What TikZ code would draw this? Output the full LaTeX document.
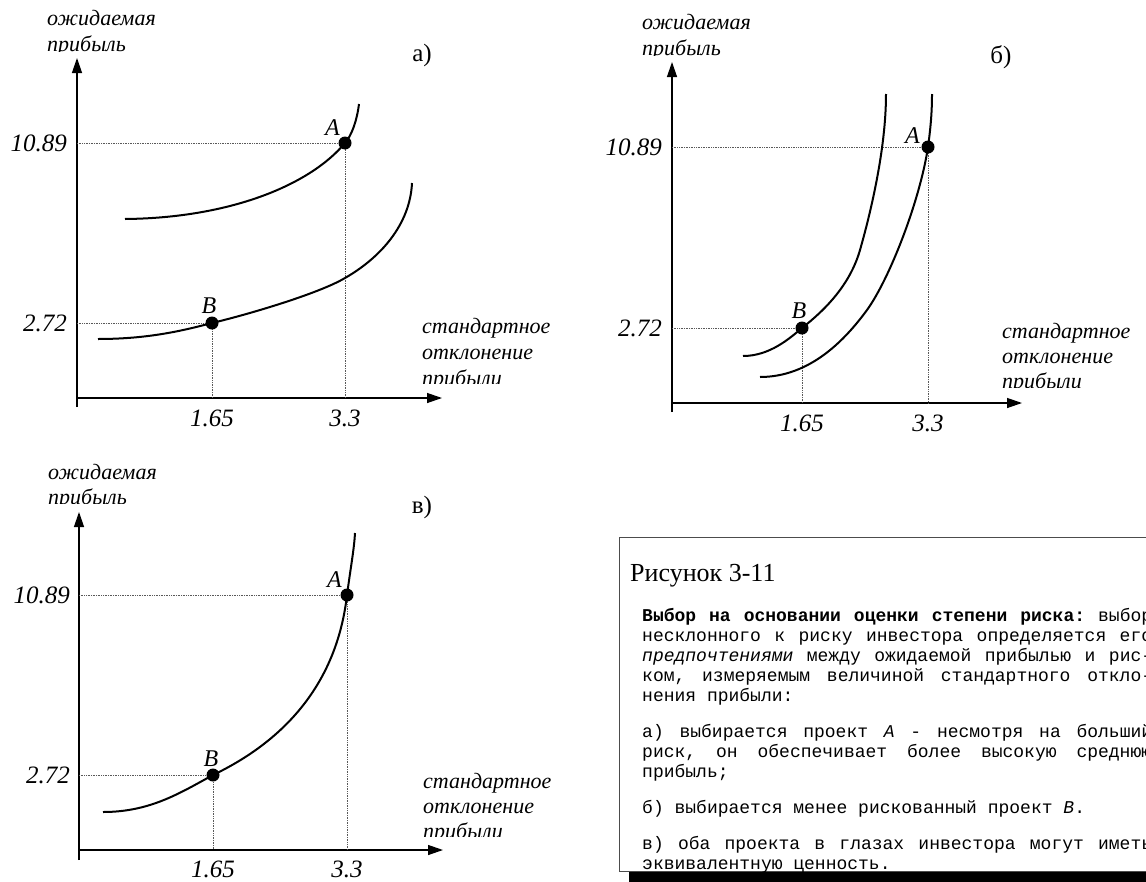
\documentclass[tikz,border=0pt]{standalone}
\usepackage{fontspec}
\setmainfont{Liberation Serif}
\newfontfamily\bodymono{Liberation Mono}
\usetikzlibrary{arrows.meta,positioning}

\begin{document}
\begin{tikzpicture}[x=1pt, y=-1pt,
    axis/.style={line width=1.3pt, -{Triangle[length=15pt,width=10pt]}},
    curve/.style={line width=2pt},
    guide/.style={densely dotted, line width=0.7pt, draw=black!65},
    dot/.style={circle, fill=black, inner sep=0pt, minimum size=13pt},
    axlab/.style={anchor=base west, inner sep=0pt, font=\fontsize{22}{25}\selectfont\itshape},
    ticklab/.style={inner sep=0pt, font=\fontsize{25}{29}\selectfont\itshape},
    ptlab/.style={inner sep=0pt, font=\fontsize{24}{28}\selectfont\itshape},
    panlab/.style={inner sep=0pt, font=\fontsize{25}{29}\selectfont}
  ]
  \useasboundingbox (0,0) rectangle (1146,881);

  % panel a)
  \coordinate (aO) at (77,398);
  \coordinate (aA) at (345,143);
  \coordinate (aB) at (212,323);
  \draw[axis] (77,407) -- (77,58);
  \draw[axis] (aO) -- (442,398);
  \draw[guide] (aO |- aA) -- (aA) -- (aA |- aO);
  \draw[guide] (aO |- aB) -- (aB) -- (aB |- aO);
  \draw[curve] (125,219) .. controls (230,218) and (310,185) .. (aA)
    .. controls (352,135) and (357,120) .. (359,104);
  \draw[curve] (98,339) .. controls (150,339) and (185,330) .. (aB)
    .. controls (250,314) and (320,293) .. (345,278)
    .. controls (380,258) and (410,225) .. (412,183);
  \node[dot] (aAd) at (aA) {};
  \node[dot] (aBd) at (aB) {};
  \node[ptlab, anchor=south east] (aAl) at ([xshift=-5pt, yshift=7pt]aA) {A};
  \node[ptlab, anchor=south] (aBl) at ([xshift=-3pt, yshift=9pt]aB) {B};
  \node[ticklab, anchor=east] (aT1) at ([xshift=-10pt]aO |- aA) {10.89};
  \node[ticklab, anchor=east] (aT2) at ([xshift=-10pt]aO |- aB) {2.72};
  \node[ticklab] (aT3) at ([yshift=-20pt]aB |- aO) {1.65};
  \node[ticklab] (aT4) at ([yshift=-20pt]aA |- aO) {3.3};
  \node[panlab] (aP) at (422,55) {а)};
  \begin{scope}
    \clip (0,0) rectangle (600,51);
    \node[axlab] (aY1) at (47,25) {ожидаемая};
    \node[axlab] (aY2) at (47,51) {прибыль};
  \end{scope}
  \begin{scope}
    \clip (400,300) rectangle (600,383);
    \node[axlab] (aX1) at (422,333) {стандартное};
    \node[axlab] (aX2) at (422,359) {отклонение};
    \node[axlab] (aX3) at (422,385) {прибыли};
  \end{scope}

  % panel b)
  \coordinate (bO) at (672,403);
  \coordinate (bA) at (928,147);
  \coordinate (bB) at (802,328);
  \draw[axis] (672,412) -- (672,62);
  \draw[axis] (bO) -- (1022,403);
  \draw[guide] (bO |- bA) -- (bA) -- (bA |- bO);
  \draw[guide] (bO |- bB) -- (bB) -- (bB |- bO);
  \draw[curve] (743,356) .. controls (770,356) and (790,338) .. (bB)
    .. controls (825,310) and (850,285) .. (860,250)
    .. controls (870,215) and (886,150) .. (886,94);
  \draw[curve] (760,377) .. controls (810,377) and (845,340) .. (867,310)
    .. controls (890,278) and (920,200) .. (bA)
    .. controls (931,125) and (932,110) .. (932,94);
  \node[dot] (bAd) at (bA) {};
  \node[dot] (bBd) at (bB) {};
  \node[ptlab, anchor=south east] (bAl) at ([xshift=-8pt, yshift=3pt]bA) {A};
  \node[ptlab, anchor=south] (bBl) at ([xshift=-3pt, yshift=9pt]bB) {B};
  \node[ticklab, anchor=east] (bT1) at ([xshift=-10pt]bO |- bA) {10.89};
  \node[ticklab, anchor=east] (bT2) at ([xshift=-10pt]bO |- bB) {2.72};
  \node[ticklab] (bT3) at ([yshift=-20pt]bB |- bO) {1.65};
  \node[ticklab] (bT4) at ([yshift=-20pt]bA |- bO) {3.3};
  \node[panlab] (bP) at (1001,57) {б)};
  \begin{scope}
    \clip (600,0) rectangle (1146,55);
    \node[axlab] (bY1) at (642,29) {ожидаемая};
    \node[axlab] (bY2) at (642,55) {прибыль};
  \end{scope}
  \begin{scope}
    \clip (980,300) rectangle (1146,387);
    \node[axlab] (bX1) at (1002,338) {стандартное};
    \node[axlab] (bX2) at (1002,363) {отклонение};
    \node[axlab] (bX3) at (1002,388) {прибыли};
  \end{scope}

  % panel v)
  \coordinate (vO) at (79,850);
  \coordinate (vA) at (347,595);
  \coordinate (vB) at (213,775);
  \draw[axis] (79,860) -- (79,512);
  \draw[axis] (vO) -- (443,850);
  \draw[guide] (vO |- vA) -- (vA) -- (vA |- vO);
  \draw[guide] (vO |- vB) -- (vB) -- (vB |- vO);
  \draw[curve] (103,812) .. controls (150,812) and (180,793) .. (vB)
    .. controls (265,750) and (335,700) .. (vA)
    .. controls (351,565) and (354,550) .. (355,533);
  \node[dot] (vAd) at (vA) {};
  \node[dot] (vBd) at (vB) {};
  \node[ptlab, anchor=south east] (vAl) at ([xshift=-5pt, yshift=7pt]vA) {A};
  \node[ptlab, anchor=south] (vBl) at ([xshift=-2pt, yshift=8pt]vB) {B};
  \node[ticklab, anchor=east] (vT1) at ([xshift=-9pt]vO |- vA) {10.89};
  \node[ticklab, anchor=east] (vT2) at ([xshift=-9pt]vO |- vB) {2.72};
  \node[ticklab] (vT3) at ([yshift=-19pt]vB |- vO) {1.65};
  \node[ticklab] (vT4) at ([yshift=-19pt]vA |- vO) {3.3};
  \node[panlab] (vP) at (422,507) {в)};
  \begin{scope}
    \clip (0,450) rectangle (600,503);
    \node[axlab] (vY1) at (48,479) {ожидаемая};
    \node[axlab] (vY2) at (48,504) {прибыль};
  \end{scope}
  \begin{scope}
    \clip (400,750) rectangle (600,836);
    \node[axlab] (vX1) at (423,788) {стандартное};
    \node[axlab] (vX2) at (423,813) {отклонение};
    \node[axlab] (vX3) at (423,838) {прибыли};
  \end{scope}

  % caption box
  \fill[black] (629,547) rectangle (1200,900);
  \filldraw[fill=white, draw=black!70, line width=0.8pt] (619,537) rectangle (1190,871);
  \node[anchor=base west, inner sep=0pt, font=\fontsize{26}{30}\selectfont] (fig) at (630,581) {Рисунок 3-11};
  \node[anchor=north west, inner sep=0pt, text width=510pt, font=\bodymono\fontsize{18}{20}\selectfont] (cap) at (642,608) {%
    \frenchspacing\spaceskip=10.8pt plus 30pt\relax\noindent
    \makebox[\linewidth][s]{\textbf{Выбор на основании оценки степени риска:} выбор}\\
    \makebox[\linewidth][s]{несклонного к риску инвестора определяется его}\\
    \makebox[\linewidth][s]{\textit{предпочтениями} между ожидаемой прибылью и рис-}\\
    \makebox[\linewidth][s]{ком, измеряемым величиной стандартного откло-}\\
    нения прибыли:\\[16pt]
    \makebox[\linewidth][s]{а) выбирается проект \textit{A} - несмотря на больший}\\
    \makebox[\linewidth][s]{риск, он обеспечивает более высокую среднюю}\\
    прибыль;\\[16pt]
    б) выбирается менее рискованный проект \textit{B}.\\[16pt]
    \makebox[\linewidth][s]{в) оба проекта в глазах инвестора могут иметь}\\
    эквивалентную ценность.};
\end{tikzpicture}
\end{document}
